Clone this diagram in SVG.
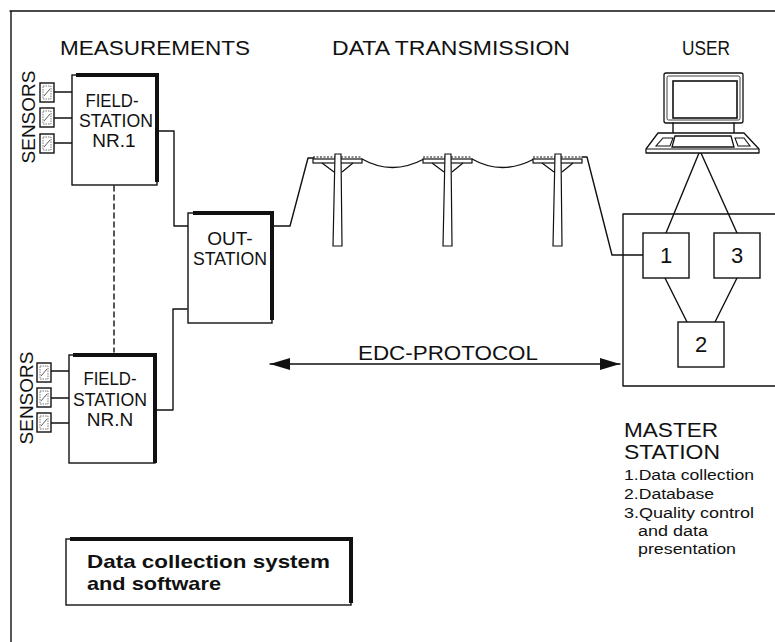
<svg xmlns="http://www.w3.org/2000/svg" width="775" height="642" viewBox="0 0 775 642">
  <defs>
    <style>
      .ln { fill: none; stroke: #111; stroke-width: 1.4; stroke-linejoin: round; stroke-linecap: round; }
      .box { fill: #fff; stroke: #111; stroke-width: 1.4; }
      .shadow { fill: none; stroke: #111; stroke-width: 4; stroke-linecap: butt; }
      .t { font-family: "Liberation Sans", Arial, sans-serif; fill: #111; }
      .head { font-size: 21px; }
      .lbl { font-size: 19px; text-anchor: middle; }
      .num { font-size: 22px; text-anchor: middle; }
      .small { font-size: 15.5px; }
      .pole { fill: #fff; stroke: #111; stroke-width: 1.2; }
    </style>
    <marker id="ah" viewBox="0 0 20 12" refX="20" refY="6" markerWidth="20" markerHeight="12" markerUnits="userSpaceOnUse" orient="auto-start-reverse">
      <path d="M0,0 L20,6 L0,12 Z" fill="#111"/>
    </marker>
    <g id="sensor">
      <rect x="0" y="0" width="14" height="19" fill="#fff" stroke="#111" stroke-width="1.4"/>
      <rect x="3" y="3" width="8" height="13" fill="none" stroke="#555" stroke-width="0.8" stroke-dasharray="1.5 1"/>
      <path d="M4,13 L10,6" stroke="#333" stroke-width="0.8"/>
    </g>
    <g id="pole">
      <path d="M-25,-3 H24" stroke="#111" stroke-width="1" stroke-dasharray="2 1.5"/>
      <rect x="-25" y="-1" width="49" height="4" class="pole"/>
      <path d="M-3,-6 H3 L4,86 H-5 Z" class="pole"/>
      <path d="M-16,3 L-4,12 M15,3 L4,12" stroke="#111" stroke-width="1.2" fill="none"/>
    </g>
  </defs>

  <!-- outer frame (top and left edges) -->
  <path class="ln" d="M10,11 H775 M11,11 V642"/>

  <!-- column headings -->
  <text class="t head" x="60" y="55" textLength="190" lengthAdjust="spacingAndGlyphs">MEASUREMENTS</text>
  <text class="t head" x="332" y="55" textLength="238" lengthAdjust="spacingAndGlyphs">DATA TRANSMISSION</text>
  <text class="t head" x="682" y="55" textLength="48" lengthAdjust="spacingAndGlyphs">USER</text>

  <!-- connectors -->
  <g id="connectors">
    <!-- sensors to field station 1 -->
    <path class="ln" d="M54,92 H72 M54,118 H72 M54,143 H72"/>
    <!-- sensors to field station N -->
    <path class="ln" d="M51,371 H69 M51,398 H69 M51,423 H69"/>
    <!-- field stations linked (dashed) -->
    <path class="ln" d="M114,186 V352" stroke-dasharray="5 4"/>
    <!-- field station 1 to out-station -->
    <path class="ln" d="M159,131 H174 V226 H189"/>
    <!-- field station N to out-station -->
    <path class="ln" d="M157,410 H173 V309 H187"/>
    <!-- out-station to the line -->
    <path class="ln" d="M273,226 H290 L308,158 H314"/>
    <!-- overhead wires between poles -->
    <path class="ln" d="M362,159 Q392,176 424,159"/>
    <path class="ln" d="M472,159 Q502,176 534,159"/>
    <!-- line down to master station -->
    <path class="ln" d="M582,157 H587 L612,255 H643"/>
    <!-- EDC protocol arrow -->
    <path class="ln" d="M270,364 H620" marker-start="url(#ah)" marker-end="url(#ah)"/>
    <!-- user terminal to units 1 and 3 -->
    <path class="ln" d="M699,153 L666,233 M701,153 L737,233"/>
    <!-- units 1 and 3 to database -->
    <path class="ln" d="M665,278 L687,322 M737,278 L715,322"/>
  </g>

  <!-- field station 1 -->
  <g id="fieldstation1">
    <text class="t lbl" transform="translate(35,117) rotate(-90)">SENSORS</text>
    <use href="#sensor" x="40" y="83"/>
    <use href="#sensor" x="40" y="108"/>
    <use href="#sensor" x="40" y="134"/>
    <rect class="box" x="72" y="75" width="85" height="110"/>
    <path class="shadow" d="M76,75 H157 V182"/>
    <text class="t lbl" x="112" y="107" textLength="53" lengthAdjust="spacingAndGlyphs">FIELD-</text>
    <text class="t lbl" x="116" y="127" textLength="74" lengthAdjust="spacingAndGlyphs">STATION</text>
    <text class="t lbl" x="114" y="147">NR.1</text>
  </g>

  <!-- field station N -->
  <g id="fieldstationN">
    <text class="t lbl" transform="translate(33,398) rotate(-90)">SENSORS</text>
    <use href="#sensor" x="37" y="363"/>
    <use href="#sensor" x="37" y="388"/>
    <use href="#sensor" x="37" y="413"/>
    <rect class="box" x="69" y="355" width="86" height="108"/>
    <path class="shadow" d="M73,355 H155 V463"/>
    <text class="t lbl" x="110" y="385" textLength="53" lengthAdjust="spacingAndGlyphs">FIELD-</text>
    <text class="t lbl" x="110" y="406" textLength="74" lengthAdjust="spacingAndGlyphs">STATION</text>
    <text class="t lbl" x="110" y="426">NR.N</text>
  </g>

  <!-- out-station -->
  <g id="outstation">
    <rect class="box" x="188" y="213" width="84" height="110"/>
    <path class="shadow" d="M193,213 H272 V320"/>
    <text class="t lbl" x="230" y="245">OUT-</text>
    <text class="t lbl" x="230" y="265" textLength="74" lengthAdjust="spacingAndGlyphs">STATION</text>
  </g>

  <!-- transmission line poles -->
  <g id="poles">
    <use href="#pole" x="338" y="160"/>
    <use href="#pole" x="448" y="160"/>
    <use href="#pole" x="558" y="160"/>
  </g>

  <!-- protocol label -->
  <g id="protocol">
    <text class="t" x="358" y="360" font-size="20" textLength="180" lengthAdjust="spacingAndGlyphs">EDC-PROTOCOL</text>
  </g>

  <!-- user terminal -->
  <g id="user">
    <rect x="664" y="73" width="79" height="50" rx="2" fill="#fff" stroke="#111" stroke-width="1.3"/>
    <rect x="667" y="76" width="73" height="44" rx="1.5" fill="none" stroke="#111" stroke-width="0.8"/>
    <rect x="673" y="81" width="64" height="37" fill="#fff" stroke="#111" stroke-width="1.6"/>
    <path class="ln" d="M673,123 V133 M734,123 V133" stroke-width="1.2"/>
    <path d="M658,133 H744 L759,149 V153 H646 V149 Z" fill="#fff" stroke="#111" stroke-width="1.3" stroke-linejoin="round"/>
    <path d="M646,149 H759" stroke="#111" stroke-width="1"/>
    <path d="M675,136 H731 L734,147 H672 Z" fill="#fff" stroke="#111" stroke-width="1.3"/>
    <path d="M663,138 H673 L670,146 H656 Z" fill="#fff" stroke="#111" stroke-width="1.1"/>
    <path d="M735,138 H744 L750,146 H738 Z" fill="#fff" stroke="#111" stroke-width="1.1"/>
  </g>

  <!-- master station -->
  <g id="masterstation">
    <path class="ln" d="M775,214 H623 V386 H775"/>
    <g id="unit1">
      <rect class="box" x="643" y="233" width="46" height="45"/>
      <text class="t num" x="666" y="263">1</text>
    </g>
    <g id="unit3">
      <rect class="box" x="714" y="233" width="46" height="45"/>
      <text class="t num" x="737" y="263">3</text>
    </g>
    <g id="unit2">
      <rect class="box" x="678" y="322" width="46" height="45"/>
      <text class="t num" x="701" y="352">2</text>
    </g>
    <text class="t" x="624" y="437" font-size="20" textLength="94" lengthAdjust="spacingAndGlyphs">MASTER</text>
    <text class="t" x="624" y="459" font-size="20" textLength="96" lengthAdjust="spacingAndGlyphs">STATION</text>
    <text class="t small" x="624" y="480" textLength="130" lengthAdjust="spacingAndGlyphs">1.Data collection</text>
    <text class="t small" x="624" y="499" textLength="90" lengthAdjust="spacingAndGlyphs">2.Database</text>
    <text class="t small" x="624" y="518" textLength="130" lengthAdjust="spacingAndGlyphs">3.Quality control</text>
    <text class="t small" x="638" y="536" textLength="70" lengthAdjust="spacingAndGlyphs">and data</text>
    <text class="t small" x="638" y="554" textLength="98" lengthAdjust="spacingAndGlyphs">presentation</text>
  </g>

  <!-- caption box -->
  <g id="caption">
    <rect class="box" x="66" y="539" width="285" height="66"/>
    <path class="shadow" d="M70,539 H351 V603"/>
    <text class="t" x="87" y="568" font-size="19" font-weight="bold" textLength="243" lengthAdjust="spacingAndGlyphs">Data collection system</text>
    <text class="t" x="87" y="590" font-size="19" font-weight="bold" textLength="134" lengthAdjust="spacingAndGlyphs">and software</text>
  </g>
</svg>
